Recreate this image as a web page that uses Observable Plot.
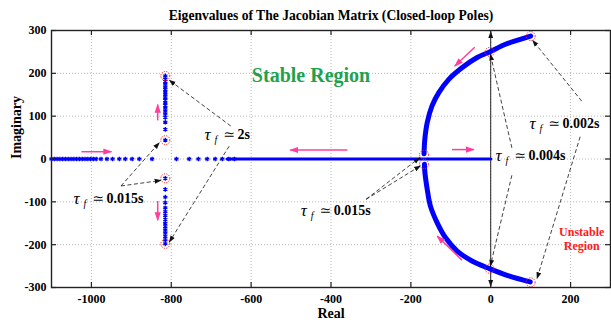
<!DOCTYPE html>
<html><head><meta charset="utf-8">
<script src="https://cdn.jsdelivr.net/npm/d3@7"></script>
<script src="https://cdn.jsdelivr.net/npm/@observablehq/plot@0.6"></script>
<style>
body{margin:0;background:#fff;}
#wrap{position:relative;width:611px;height:324px;}
#title{position:absolute;left:51px;width:560px;top:8px;line-height:13px;text-align:center;font:bold 13.6px "Liberation Serif","Times New Roman",serif;color:#000;}
</style></head><body>
<div id="wrap"><div id="title">Eigenvalues of The Jacobian Matrix (Closed-loop Poles)</div></div>
<script>
// ---- data ----
const xTicks = [-1000, -800, -600, -400, -200, 0, 200];
const yTicks = [-300, -200, -100, 0, 100, 200, 300];

// isolated real-axis poles
const realPolesX = [-1100,-1093,-1086,-1079,-1072,-1065,-1058,-1051,-1044,-1037,-1030,-1023,-1016,-1009,-1002,-995,-988,-976,-961,-947,-930,-915,-898,-880,-848,-787,-755,-732,-710,-690,-672,-656,-642];
// dense real-axis pole band
const realBandX = [-660, 0];

// vertical branch near Re = -815
const branchX = [-815];
const branchUpperY = [194,186,181,175,168,162,156,150,143,137,131,125,119,112,105,97,86,69,44];
const branchLowerY = [-45,-71,-89,-102,-114,-123,-132,-141,-150,-158,-166,-173,-181,-189,-198];

// complex-pair arcs
const arcUpperX = [-167,-165,-159,-147,-130,-105,-72,-34,-3,37,70,100];
const arcUpperY = [12,46,85,124,155,186,213,237,250,268,278,287];
const arcLowerX = [-166,-165,-159,-151,-134,-113,-84,-47,-3,45,99];
const arcLowerY = [-12,-30,-71,-110,-149,-184,-215,-238,-256,-273,-287];

// highlighted poles (red dotted circles)
const markX = [-815,-815,-815,-815,-167,-167,-3,100,-3,100];
const markY = [194,44,-45,-198,10,-12,250,287,-256,-288];

// tau labels
const tauX = [-1045, -717, -476, 12, 97];
const tauY = [-92, 56, -121, 7, 83];
const tauValue = ["0.015s", "2s", "0.015s", "0.004s", "0.002s"];

// dashed annotation arrows
const annX1 = [-926,-926,-651,-655,-312,-312,53,53,228,224];
const annY1 = [-63,-63,77,30,-94,-94,26,-38,135,52];
const annX2 = [-830,-826,-805,-805,-178,-176,-1,-1,105,116];
const annY2 = [38,-50,184,-194,3,-16,245,-250,277,-279];

// imaginary axis arrows
const imAxisY = [297, -297];

// pink direction arrows
const pinkX1 = [-1025,-834,-834,-359,-97,-40,-72];
const pinkY1 = [17,90,-98,21,22,261,-236];
const pinkX2 = [-950,-834,-834,-502,-42,-90,-134];
const pinkY2 = [17,127,-143,21,22,217,-180];

// region labels
const stableText = ["Stable Region"], stableX = [-450], stableY = [194];
const unstableText = ["Unstable\nRegion"], unstableX = [228], unstableY = [-186];
const axisXLabel = "Real", axisYLabel = "Imaginary";

// ---- build ----
const BLUE = "#0000ff", PINK = "#ff3fa0", GREEN = "#1fa24f", RED = "#ff1a1a";
const idx = (a) => a.map((_, i) => i);
const bandIdx = idx(realBandX);

const chart = Plot.plot({
  width: 611, height: 324,
  marginLeft: 51, marginRight: 1, marginTop: 30, marginBottom: 37,
  style: {fontFamily: '"Liberation Serif","Times New Roman",serif', fontSize: "12px", fontWeight: "bold", background: "#fff", color: "#000", overflow: "visible"},
  x: {domain: [-1100, 300], ticks: xTicks, tickFormat: d => String(d), tickSize: 0, tickPadding: 7, label: null},
  y: {domain: [-300, 300], ticks: yTicks, tickFormat: d => String(d), tickSize: 0, tickPadding: 5, label: null},
  marks: [
    // grid
    Plot.ruleX(xTicks, {stroke: "#b8b8b8", strokeWidth: 1, strokeDasharray: "1,2"}),
    Plot.ruleY(yTicks, {stroke: "#b8b8b8", strokeWidth: 1, strokeDasharray: "1,2"}),
    // imaginary axis with arrows
    Plot.link(imAxisY, {x1: 0, y1: 0, x2: 0, y2: d => d, stroke: "#222", strokeWidth: 1}),
    // real axis band
    Plot.line(bandIdx, {x: i => realBandX[i], y: 0, stroke: BLUE, strokeWidth: 3.2}),
    Plot.dot(realPolesX, {x: d => d, y: 0, symbol: "asterisk", r: 2.2, stroke: BLUE, strokeWidth: 1.3}),
    // vertical branch
    Plot.dot(branchUpperY, {x: () => branchX[0], y: d => d, symbol: "asterisk", r: 2.2, stroke: BLUE, strokeWidth: 1.3}),
    Plot.dot(branchLowerY, {x: () => branchX[0], y: d => d, symbol: "asterisk", r: 2.2, stroke: BLUE, strokeWidth: 1.3}),
    // arcs
    Plot.line(idx(arcUpperX), {x: i => arcUpperX[i], y: i => arcUpperY[i], stroke: BLUE, strokeWidth: 5, curve: "catmull-rom"}),
    Plot.line(idx(arcLowerX), {x: i => arcLowerX[i], y: i => arcLowerY[i], stroke: BLUE, strokeWidth: 5, curve: "catmull-rom"}),
    // highlighted poles
    Plot.dot(idx(markX), {x: i => markX[i], y: i => markY[i], r: 4.5, stroke: RED, strokeWidth: 1, strokeDasharray: "1.2,1.2", fill: "none"}),
    // dashed annotation arrows
    Plot.link(idx(annX1), {x1: i => annX1[i], y1: i => annY1[i], x2: i => annX2[i], y2: i => annY2[i], stroke: "#111", strokeWidth: 0.8, strokeDasharray: "4,2.5"}),
    // pink arrows
    Plot.link(idx(pinkX1), {x1: i => pinkX1[i], y1: i => pinkY1[i], x2: i => pinkX2[i], y2: i => pinkY2[i], stroke: PINK, strokeWidth: 1.5}),
    // tau labels
    Plot.text(idx(tauX), {x: i => tauX[i], y: i => tauY[i], text: () => "τ", textAnchor: "start", fontStyle: "italic", fontWeight: "normal", fontSize: 17, fill: "#000"}),
    Plot.text(idx(tauX), {x: i => tauX[i], y: i => tauY[i], text: () => "f", textAnchor: "start", fontStyle: "italic", fontWeight: "normal", fontSize: 10, dx: 10, dy: 5, fill: "#000"}),
    Plot.text(idx(tauX), {x: i => tauX[i], y: i => tauY[i], text: () => "≃", textAnchor: "start", fontFamily: "DejaVu Serif", fontWeight: "normal", fontSize: 14, dx: 19, fill: "#000"}),
    Plot.text(idx(tauX), {x: i => tauX[i], y: i => tauY[i], text: i => tauValue[i], textAnchor: "start", fontWeight: "bold", fontSize: 14, dx: 33, fill: "#000"}),
    // region labels
    Plot.text(stableText, {x: () => stableX[0], y: () => stableY[0], text: d => d, fill: GREEN, fontSize: 20, fontWeight: "bold"}),
    Plot.text(unstableText, {x: () => unstableX[0], y: () => unstableY[0], text: d => d, fill: RED, fontSize: 12, fontWeight: "bold", lineHeight: 1.2}),
    // axis labels
    Plot.text([axisXLabel], {frameAnchor: "bottom", text: d => d, dy: 30, fontSize: 14, fontWeight: "bold", fill: "#000"}),
    Plot.text([axisYLabel], {frameAnchor: "left", text: d => d, dx: -35, rotate: -90, fontSize: 14, fontWeight: "bold", fill: "#000"}),
    // frame + inward ticks
    Plot.frame({stroke: "#222", strokeWidth: 1.4}),
    Plot.ruleX(xTicks, {insetTop: 252, stroke: "#222", strokeWidth: 1.2}),
    Plot.ruleX(xTicks, {insetBottom: 252, stroke: "#222", strokeWidth: 1.2}),
    Plot.ruleY(yTicks, {insetRight: 554, stroke: "#222", strokeWidth: 1.2}),
    Plot.ruleY(yTicks, {insetLeft: 554, stroke: "#222", strokeWidth: 1.2})
  ]
});

// filled arrowheads for link marks
const svg = d3.select(chart);
const defs = svg.append("defs");
function head(id, color, size) {
  defs.append("marker").attr("id", id).attr("viewBox", "0 0 10 10")
    .attr("refX", 9).attr("refY", 5).attr("markerWidth", size).attr("markerHeight", size)
    .attr("markerUnits", "userSpaceOnUse").attr("orient", "auto")
    .append("path").attr("d", "M0,1.5L10,5L0,8.5Z").attr("fill", color)
    .attr("stroke", "none").attr("stroke-dasharray", "none");
}
head("headBlack", "#111", 7);
head("headPink", PINK, 9);
svg.selectAll('g[aria-label="link"]').each(function () {
  const s = this.getAttribute("stroke");
  d3.select(this).selectAll("path").attr("marker-end", s === PINK ? "url(#headPink)" : "url(#headBlack)");
});
chart.style.position = "absolute";
chart.style.left = "0px";
chart.style.top = "0px";
const wrap = document.getElementById("wrap");
wrap.insertBefore(chart, wrap.firstChild);
</script>
</body></html>
